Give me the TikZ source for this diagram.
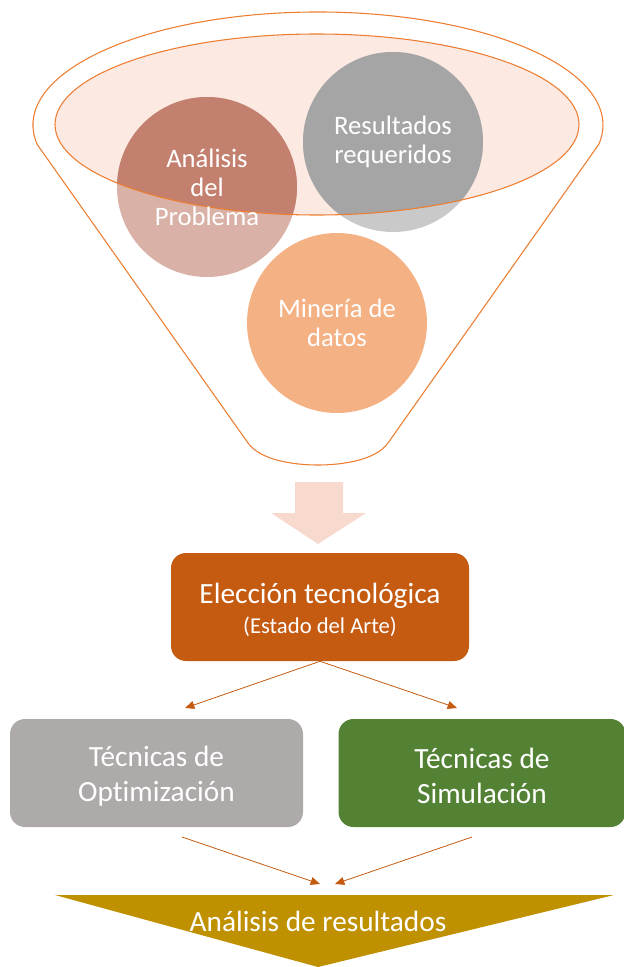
\documentclass[tikz,border=0pt]{standalone}
\usepackage{fontspec}
\setmainfont{Carlito}[Ligatures=NoCommon]
\usetikzlibrary{arrows.meta}
\definecolor{orng}{HTML}{ED7D31}
\definecolor{pinkfill}{HTML}{FBE9E2}
\definecolor{anaDark}{HTML}{C3806F}
\definecolor{anaLight}{HTML}{D9B1A6}
\definecolor{resDark}{HTML}{A5A5A5}
\definecolor{resLight}{HTML}{C9C9C9}
\definecolor{minCol}{HTML}{F4B183}
\definecolor{bigArrow}{HTML}{F8D9CD}
\definecolor{elecCol}{HTML}{C55A11}
\definecolor{optCol}{HTML}{AEAAAA}
\definecolor{simCol}{HTML}{548235}
\definecolor{resultCol}{HTML}{BF9000}
\begin{document}
\begin{tikzpicture}[x=0.75pt,y=-0.75pt,
  bubble/.style={circle, minimum size=135pt, inner sep=0pt},
  bubbletext/.style={text=white, align=center, inner sep=0pt, font=\fontsize{20}{21.75}\selectfont},
  boxnode/.style={rounded corners=11.25pt, minimum height=81pt, inner sep=0pt},
  boxtext/.style={text=white, align=center, inner sep=0pt, font=\fontsize{22}{26.25}\selectfont},
  conn/.style={draw=elecCol, line width=0.6pt, -{Triangle[length=7pt,width=6pt]}}
]
\useasboundingbox (0,0) rectangle (624,967);

% inner ellipse fill
\fill[pinkfill] (317,124.5) ellipse [x radius=262, y radius=90.5];

% circles (light parts)
\node[bubble, fill=anaLight] (ana) at (207,187) {};
\node[bubble, fill=resLight] (res) at (393,142) {};
\node[bubble, fill=minCol] (min) at (337,323) {};

% darker parts inside the ellipse
\begin{scope}
  \clip (317,124.5) ellipse [x radius=262, y radius=90.5];
  \fill[anaDark] (ana.center) circle [radius=90];
  \fill[resDark] (res.center) circle [radius=90];
\end{scope}

% ellipse outline
\draw[orng, line width=0.8pt] (317,124.5) ellipse [x radius=262, y radius=90.5];

% funnel outline
\draw[orng, line width=0.8pt] (37.3,144.6) arc[start angle=170, end angle=370, x radius=285, y radius=113]
  -- (388,443) .. controls (375,461) and (340,465) .. (318,465)
  .. controls (296,465) and (261,461) .. (248,443) -- cycle;

% bubble texts
\node[bubbletext] (anaT) at (ana.center) {Análisis\\del\\Problema};
\node[bubbletext] (resT) at (res.center) {Resultados\\requeridos};
\node[bubbletext] (minT) at (min.center) {Minería de\\datos};

% big down arrow
\fill[bigArrow] (295,482) -- (343,482) -- (343,513) -- (366,513) -- (318,544) -- (271,513) -- (295,513) -- cycle;

% boxes
\node[boxnode, fill=elecCol, minimum width=223.5pt] (elec) at (320,607) {};
\node[boxtext, font=\fontsize{22}{22.5}\selectfont] (elecT) at (320,610)
  {Elección tecnológica\\{\fontsize{17}{20}\selectfont (Estado del Arte)}};
\node[boxnode, fill=optCol, minimum width=219.75pt] (opt) at (156.5,773) {};
\node[boxtext] (optT) at (156.5,776) {Técnicas de\\Optimización};
\node[boxnode, fill=simCol, minimum width=215.25pt] (sim) at (482,773) {};
\node[boxtext] (simT) at (482,776) {Técnicas de\\Simulación};

% bottom triangle
\fill[resultCol] (55,895) -- (614,895) -- (318,967) -- cycle;
\node[text=white, inner sep=0pt, font=\fontsize{22}{26}\selectfont] (resu) at (318,921) {Análisis de resultados};

% connectors
\coordinate (optTip) at (185,708);
\coordinate (simTip) at (457,708);
\coordinate (optOut) at (182,837);
\coordinate (simOut) at (472,837);
\coordinate (resTipL) at (320,884);
\coordinate (resTipR) at (335,884);
\draw[conn] (elec.south) -- (optTip);
\draw[conn] (elec.south) -- (simTip);
\draw[conn] (optOut) -- (resTipL);
\draw[conn] (simOut) -- (resTipR);
\end{tikzpicture}
\end{document}
